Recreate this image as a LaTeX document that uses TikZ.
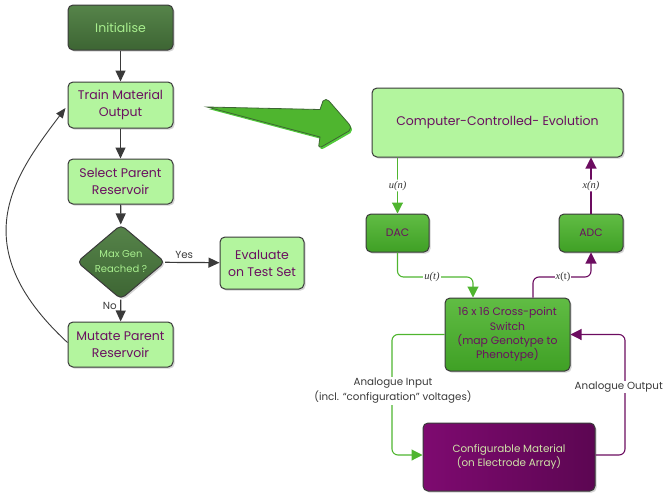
\documentclass[tikz,border=0pt]{standalone}
\usepackage{fontspec}
\setmainfont{Poppins}
\newfontfamily\mathserif{Liberation Serif}
\usetikzlibrary{shapes.geometric,shadows,arrows.meta,calc}
\definecolor{lgreen}{HTML}{B3F59E}
\definecolor{mgreen}{HTML}{4FB52F}
\definecolor{mgreenB}{HTML}{3FA025}
\definecolor{dgreenA}{HTML}{56844A}
\definecolor{dgreenB}{HTML}{3D6533}
\definecolor{ptext}{HTML}{6A1060}
\definecolor{purpA}{HTML}{7E0A70}
\definecolor{purpB}{HTML}{5C0652}
\definecolor{pline}{HTML}{6C0C60}
\definecolor{bord}{HTML}{3A3A3A}
\definecolor{lgtext}{HTML}{A8EE8E}
\definecolor{mattext}{HTML}{CFE3A8}
\tikzset{
  base/.style={rounded corners=5pt, draw=bord, line width=1pt, align=center, inner sep=1pt,
    drop shadow={shadow xshift=1.6pt, shadow yshift=-1.6pt, opacity=0.35}},
  lightbox/.style={base, fill=lgreen, text=ptext, font=\fontsize{12.5}{17}\selectfont},
  darkbox/.style={base, top color=dgreenA, bottom color=dgreenB, text=lgtext, font=\fontsize{12.5}{17}\selectfont},
  midbox/.style={base, top color=mgreen!90!white, bottom color=mgreenB, text=ptext, font=\fontsize{10.8}{14.3}\selectfont},
  purpbox/.style={base, left color=purpA, right color=purpB, text=mattext, font=\fontsize{10.4}{14}\selectfont},
  flow/.style={draw=bord, line width=1.2pt, -{Triangle[width=10pt,length=11pt]}},
  gconn/.style={draw=mgreen, line width=1.1pt, rounded corners=6pt, -{Triangle[width=11pt,length=11pt]}},
  pconn/.style={draw=pline, line width=1.1pt, rounded corners=6pt, -{Triangle[width=11pt,length=11pt]}},
  sig/.style={fill=white, inner sep=1pt, font=\mathserif\fontsize{10.5}{12}\selectfont\itshape, text=bord!90!black},
  lbl/.style={text=bord, font=\fontsize{10.3}{15}\selectfont, align=center},
}
\begin{document}
\begin{tikzpicture}[x=1pt,y=-1pt]
\useasboundingbox (0,0) rectangle (665,496);
% left flowchart
\node[darkbox, minimum width=105pt, minimum height=45pt] (init) at (120.5,27.5) {Initialise};
\node[lightbox, minimum width=105pt, minimum height=46pt] (train) at (120.5,105) {Train Material\\Output};
\node[lightbox, minimum width=105pt, minimum height=45pt] (select) at (120.5,181.5) {Select Parent\\Reservoir};
\node[shape=diamond, rounded corners=5pt, draw=bord, line width=1pt, top color=dgreenA, bottom color=dgreenB,
  drop shadow={shadow xshift=1.6pt, shadow yshift=-1.6pt, opacity=0.35},
  minimum width=88pt, minimum height=61pt, inner sep=0pt, align=center, text=lgtext,
  font=\fontsize{10}{15}\selectfont] (maxgen) at (121,262) {Max Gen\\Reached ?};
\node[lightbox, minimum width=84pt, minimum height=52pt] (eval) at (262,263) {Evaluate\\on Test Set};
\node[lightbox, minimum width=105pt, minimum height=45pt] (mutate) at (120.5,344.5) {Mutate Parent\\Reservoir};

\draw[flow] (init) -- (train);
\draw[flow] (train) -- (select);
\draw[flow] (select) -- (maxgen);
\draw[flow] (maxgen) -- node[lbl, above, pos=0.35] {Yes} (eval);
\draw[flow] (maxgen) -- node[lbl, left, pos=0.3] {No} (mutate);
\draw[draw=bord, line width=0.9pt, -{Triangle[width=8pt,length=10pt]}]
  ($(mutate.west)+(0,-2)$) .. controls (-38,245) and (15,175) .. ($(train.west)+(-2,3)$);

% big arrow
\path[fill=mgreen, draw=dgreenB, line width=0.8pt,
  drop shadow={shadow xshift=1.5pt, shadow yshift=-2pt, opacity=0.9, fill=mgreen!80!green}]
  (207,107) -- (320,109.5) -- (323,101) .. controls (325,99) and (327,99) .. (329,101)
  -- (349,124) .. controls (351,127) and (351,129) .. (349,131)
  -- (323,146) .. controls (320,148) and (318,147) .. (319,144)
  -- (320,137) -- cycle;

% right part
\node[lightbox, minimum width=251pt, minimum height=69pt] (comp) at (497.5,122.5) {Computer-Controlled- Evolution};
\node[midbox, minimum width=63pt, minimum height=38pt] (dac) at (397.5,233) {DAC};
\node[midbox, minimum width=64pt, minimum height=38pt] (adc) at (591,233) {ADC};
\node[midbox, minimum width=125pt, minimum height=73pt] (switch) at (507.5,334.5) {16 x 16 Cross-point\\Switch\\(map Genotype to\\Phenotype)};
\node[purpbox, minimum width=172pt, minimum height=68pt] (mat) at (509,457) {Configurable Material\\(on Electrode Array)};

\coordinate (ut) at (473,277);
\coordinate (xt) at (533,277);
\coordinate (ain) at (392,455);
\coordinate (aout) at (625,455);

\draw[gconn] (dac.north |- comp.south) -- node[sig, pos=0.5] {u(n)} (dac.north);
\draw[pconn] (adc.north) -- node[sig, pos=0.5] {x(n)} (adc.north |- comp.south);
\draw[gconn] (dac.south) |- (ut) -- (ut |- switch.north);
\node[sig] (utl) at (432,277) {u(t)};
\draw[pconn] (xt |- switch.north) -- (xt) -| (adc.south);
\node[sig] (xtl) at (563,277) {x{\upshape(t)}};
\draw[gconn] (switch.west) -| (ain) -- (ain -| mat.west);
\draw[pconn] (aout -| mat.east) -- (aout) |- (switch.east);
\node[lbl, fill=white, inner sep=1pt] (ainl) at (393,391) {Analogue Input\\(incl. “configuration” voltages)};
\node[lbl, fill=white, inner sep=1pt, anchor=east] (aoutl) at (664,387) {Analogue Output};
\end{tikzpicture}
\end{document}
